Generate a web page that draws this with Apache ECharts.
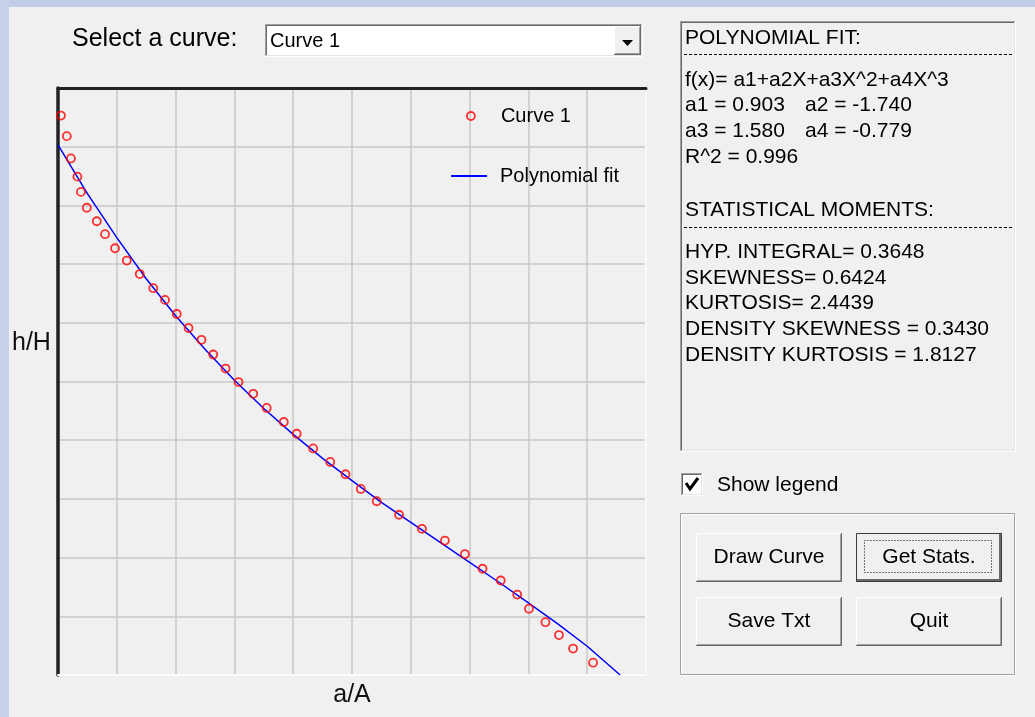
<!DOCTYPE html>
<html>
<head>
<meta charset="utf-8">
<title>Polynomial fit</title>
<script src="https://cdn.jsdelivr.net/npm/echarts@6/dist/echarts.min.js"></script>
<style>
	html, body { margin: 0; padding: 0; background: #f0f0f0; }
	#chart { width: 1035px; height: 717px; }
</style>
</head>
<body>
<div id="chart"></div>
<script>
	// measured curve (red circles), a/A and h/H
	const curveX = [0.005, 0.015, 0.022, 0.033, 0.039, 0.049, 0.066, 0.080, 0.097, 0.117,
		0.139, 0.162, 0.182, 0.202, 0.222, 0.244, 0.264, 0.285, 0.307, 0.332,
		0.355, 0.384, 0.406, 0.434, 0.463, 0.489, 0.515, 0.542, 0.580, 0.619,
		0.658, 0.692, 0.722, 0.753, 0.781, 0.801, 0.829, 0.852, 0.876, 0.910]
	const curveY = [0.953, 0.918, 0.880, 0.849, 0.823, 0.796, 0.773, 0.751, 0.727, 0.706,
		0.683, 0.659, 0.639, 0.615, 0.591, 0.571, 0.546, 0.522, 0.499, 0.479,
		0.455, 0.431, 0.411, 0.386, 0.363, 0.342, 0.317, 0.296, 0.273, 0.249,
		0.229, 0.206, 0.181, 0.161, 0.137, 0.113, 0.090, 0.068, 0.045, 0.021]

	// polynomial fit (blue line)
	const fitX = [0, 0.05, 0.1, 0.15, 0.2, 0.25, 0.3, 0.35, 0.4, 0.45,
		0.5, 0.55, 0.6, 0.65, 0.7, 0.75, 0.8, 0.85, 0.9, 0.956]
	const fitY = [0.903, 0.820, 0.745, 0.675, 0.612, 0.555, 0.502, 0.454, 0.410, 0.369,
		0.331, 0.294, 0.260, 0.226, 0.192, 0.158, 0.123, 0.087, 0.049, 0.0]

	// texts of the dialog
	const curveNames = ['Curve 1']
	const seriesNames = ['Curve 1', 'Polynomial fit']
	const axisNames = ['a/A', 'h/H']
	const fitFormula = 'f(x)= a1+a2X+a3X^2+a4X^3'
	const coefNames = ['a1', 'a2', 'a3', 'a4']
	const coefValues = ['0.903', '-1.740', '1.580', '-0.779']
	const rSquared = '0.996'
	const momentNames = ['HYP. INTEGRAL= ', 'SKEWNESS= ', 'KURTOSIS= ', 'DENSITY SKEWNESS = ', 'DENSITY KURTOSIS = ']
	const momentValues = ['0.3648', '0.6424', '2.4439', '0.3430', '1.8127']
	const buttonNames = ['Draw Curve', 'Get Stats.', 'Save Txt', 'Quit']

	const FONT = '"Liberation Sans", Arial, sans-serif'

	function line(x1, y1, x2, y2, color, width, dash) {
		return {
			type: 'line', silent: true,
			shape: { x1, y1, x2, y2 },
			style: { stroke: color, lineWidth: width || 1, lineDash: dash || null }
		}
	}

	function text(x, y, str, size, align, color) {
		return {
			type: 'text', silent: true,
			style: { x, y, text: str, fill: color || '#000', font: (size || 21) + 'px ' + FONT,
				align: align || 'left', verticalAlign: 'middle' }
		}
	}

	//凹陷边框
	function sunken(x, y, w, h, fill) {
		return [
			{ type: 'rect', silent: true, shape: { x, y, width: w, height: h }, style: { fill } },
			line(x + 0.5, y, x + 0.5, y + h, '#a0a0a0'),
			line(x, y + 0.5, x + w, y + 0.5, '#a0a0a0'),
			line(x + 1.5, y + 1, x + 1.5, y + h - 1, '#696969'),
			line(x + 1, y + 1.5, x + w - 1, y + 1.5, '#696969'),
			line(x + w - 0.5, y, x + w - 0.5, y + h, '#ffffff'),
			line(x, y + h - 0.5, x + w, y + h - 0.5, '#ffffff'),
			line(x + w - 1.5, y + 1, x + w - 1.5, y + h - 1, '#e3e3e3'),
			line(x + 1, y + h - 1.5, x + w - 1, y + h - 1.5, '#e3e3e3')
		]
	}

	//凸起按钮
	function button(x, y, w, h, label, isDefault) {
		const els = [
			{ type: 'rect', silent: true, shape: { x, y, width: w, height: h }, style: { fill: '#f0f0f0' } },
			line(x + 0.5, y, x + 0.5, y + h, '#ffffff'),
			line(x, y + 0.5, x + w, y + 0.5, '#ffffff'),
			line(x + w - 0.5, y, x + w - 0.5, y + h, '#696969'),
			line(x, y + h - 0.5, x + w, y + h - 0.5, '#696969'),
			line(x + w - 1.5, y + 1, x + w - 1.5, y + h - 1, '#a0a0a0'),
			line(x + 1, y + h - 1.5, x + w - 1, y + h - 1.5, '#a0a0a0')
		]
		if (isDefault) {
			els.push({ type: 'rect', silent: true, shape: { x: x + 0.5, y: y + 0.5, width: w - 1, height: h - 1 },
				style: { fill: null, stroke: '#3c3c3c', lineWidth: 1 } })
			els.push(line(x + 1, y + h - 2, x + w - 1, y + h - 2, '#696969', 2))
			els.push(line(x + w - 2, y + 1, x + w - 2, y + h - 1, '#696969', 2))
			els.push({ type: 'rect', silent: true, shape: { x: x + 8.5, y: y + 7.5, width: w - 19, height: h - 17 },
				style: { fill: null, stroke: '#000', lineWidth: 1, lineDash: [1, 2] } })
		}
		els.push(text(x + w / 2, y + h / 2, label, 21, 'center'))
		return els
	}

	function buildGraphics() {
		let els = []
		//背景中露出的窗口边缘
		els.push({ type: 'rect', silent: true, shape: { x: 0, y: 0, width: 1035, height: 7 }, style: { fill: '#c2cce6' } })
		els.push({ type: 'rect', silent: true, shape: { x: 0, y: 0, width: 9, height: 717 }, style: { fill: '#c8d1ea' } })

		// curve selector
		els.push(text(72, 39, 'Select a curve:', 25))
		els = els.concat(sunken(265, 24, 378, 33, '#ffffff'))
		els.push(text(270, 41, curveNames[0], 20))
		els = els.concat(button(614, 26, 27, 29, '', false))
		els.push({ type: 'polygon', silent: true, shape: { points: [[622, 40], [633, 40], [627.5, 46]] }, style: { fill: '#000' } })

		// y axis name, placed where the dialog has it
		els.push(text(12, 343, axisNames[1], 25, 'left', '#111'))

		// results box
		els = els.concat(sunken(680, 21, 336, 431, '#f0f0f0'))
		els.push(text(685, 38, 'POLYNOMIAL FIT:'))
		els.push(line(684, 54.5, 1014, 54.5, '#000', 1, [3, 2]))
		els.push(text(685, 80, fitFormula))
		for (let i = 0; i < coefNames.length; i++) {
			const row = Math.floor(i / 2)
			const col = i % 2
			els.push(text(col === 0 ? 685 : 805, 105 + row * 26, coefNames[i] + ' = ' + coefValues[i]))
		}
		els.push(text(685, 157, 'R^2 = ' + rSquared))
		els.push(text(685, 210, 'STATISTICAL MOMENTS:'))
		els.push(line(684, 227.5, 1014, 227.5, '#000', 1, [3, 2]))
		momentNames.forEach((name, i) => {
			els.push(text(685, 252 + i * 25.8, name + momentValues[i]))
		})

		// show legend checkbox
		els = els.concat(sunken(681, 473, 22, 23, '#ffffff'))
		els.push({ type: 'polyline', silent: true, shape: { points: [[686, 483], [690, 489], [698, 478]] },
			style: { stroke: '#000', lineWidth: 3, fill: null } })
		els.push(text(717, 485, 'Show legend'))

		// group of buttons
		els.push({ type: 'rect', silent: true, shape: { x: 681.5, y: 514.5, width: 334, height: 161 }, style: { fill: null, stroke: '#ffffff' } })
		els.push({ type: 'rect', silent: true, shape: { x: 680.5, y: 513.5, width: 334, height: 161 }, style: { fill: null, stroke: '#a0a0a0' } })
		els = els.concat(button(696, 533, 146, 49, buttonNames[0], false))
		els = els.concat(button(856, 533, 146, 49, buttonNames[1], true))
		els = els.concat(button(696, 597, 146, 49, buttonNames[2], false))
		els = els.concat(button(856, 597, 146, 49, buttonNames[3], false))
		return els
	}

	const chartInstance = echarts.init(document.getElementById('chart'), null, { renderer: 'canvas' })

	const curveData = curveX.map((x, i) => [x, curveY[i]])
	const fitData = fitX.map((x, i) => [x, fitY[i]])

	const option = {
		animation: false,
		backgroundColor: '#f0f0f0',
		textStyle: { fontFamily: FONT },
		grid: { left: 58, top: 88, right: 389, bottom: 42 },
		legend: [
			{
				data: [{ name: seriesNames[0], icon: 'circle' }], left: 466, top: 106, padding: 0, orient: 'vertical',
				itemWidth: 8, itemHeight: 8, selectedMode: false,
				itemStyle: { color: 'rgba(0,0,0,0)', borderColor: '#ff0000', borderWidth: 1.8 },
				textStyle: { fontSize: 20, color: '#000', padding: [0, 0, 0, 21] }
			},
			{
				data: [{ name: seriesNames[1], icon: 'rect' }], left: 451, top: 166, padding: 0, orient: 'vertical',
				itemWidth: 36, itemHeight: 2, selectedMode: false,
				itemStyle: { color: '#0000ff', borderWidth: 0 },
				textStyle: { fontSize: 20, color: '#000', padding: [0, 0, 0, 8] }
			}
		],
		xAxis: [
			{
				type: 'value', min: 0, max: 1, interval: 0.1, position: 'bottom',
				name: axisNames[0], nameLocation: 'middle', nameGap: 8,
				nameTextStyle: { fontSize: 25, color: '#111', verticalAlign: 'top' },
				axisLine: { show: true, onZero: false, lineStyle: { color: '#fbfbfb', width: 2 } },
				axisTick: { show: false }, axisLabel: { show: false },
				splitLine: { show: true, lineStyle: { color: '#c8c8c8', width: 1.5 } }
			},
			{
				type: 'value', min: 0, max: 1, interval: 0.1, position: 'top',
				axisLine: { show: true, onZero: false, lineStyle: { color: '#222', width: 3 } },
				axisTick: { show: false }, axisLabel: { show: false }, splitLine: { show: false }
			}
		],
		yAxis: [
			{
				type: 'value', min: 0, max: 1, interval: 0.1, position: 'left',
				axisLine: { show: true, onZero: false, lineStyle: { color: '#222', width: 3.5 } },
				axisTick: { show: false }, axisLabel: { show: false },
				splitLine: { show: true, lineStyle: { color: '#c8c8c8', width: 1.5 } }
			},
			{
				type: 'value', min: 0, max: 1, interval: 0.1, position: 'right',
				axisLine: { show: true, onZero: false, lineStyle: { color: '#f8f8f8', width: 2 } },
				axisTick: { show: false }, axisLabel: { show: false }, splitLine: { show: false }
			}
		],
		series: [
			{
				name: seriesNames[1], type: 'line', data: fitData, symbol: 'none', clip: true,
				lineStyle: { color: '#0000ff', width: 1.5 }, itemStyle: { color: '#0000ff' }, z: 2
			},
			{
				name: seriesNames[0], type: 'scatter', data: curveData, symbol: 'circle', symbolSize: 8,
				itemStyle: { color: 'rgba(0,0,0,0)', borderColor: '#ff0000', borderWidth: 1.8 }, z: 3
			}
		],
		graphic: { elements: buildGraphics() }
	}

	chartInstance.setOption(option)
</script>
</body>
</html>
